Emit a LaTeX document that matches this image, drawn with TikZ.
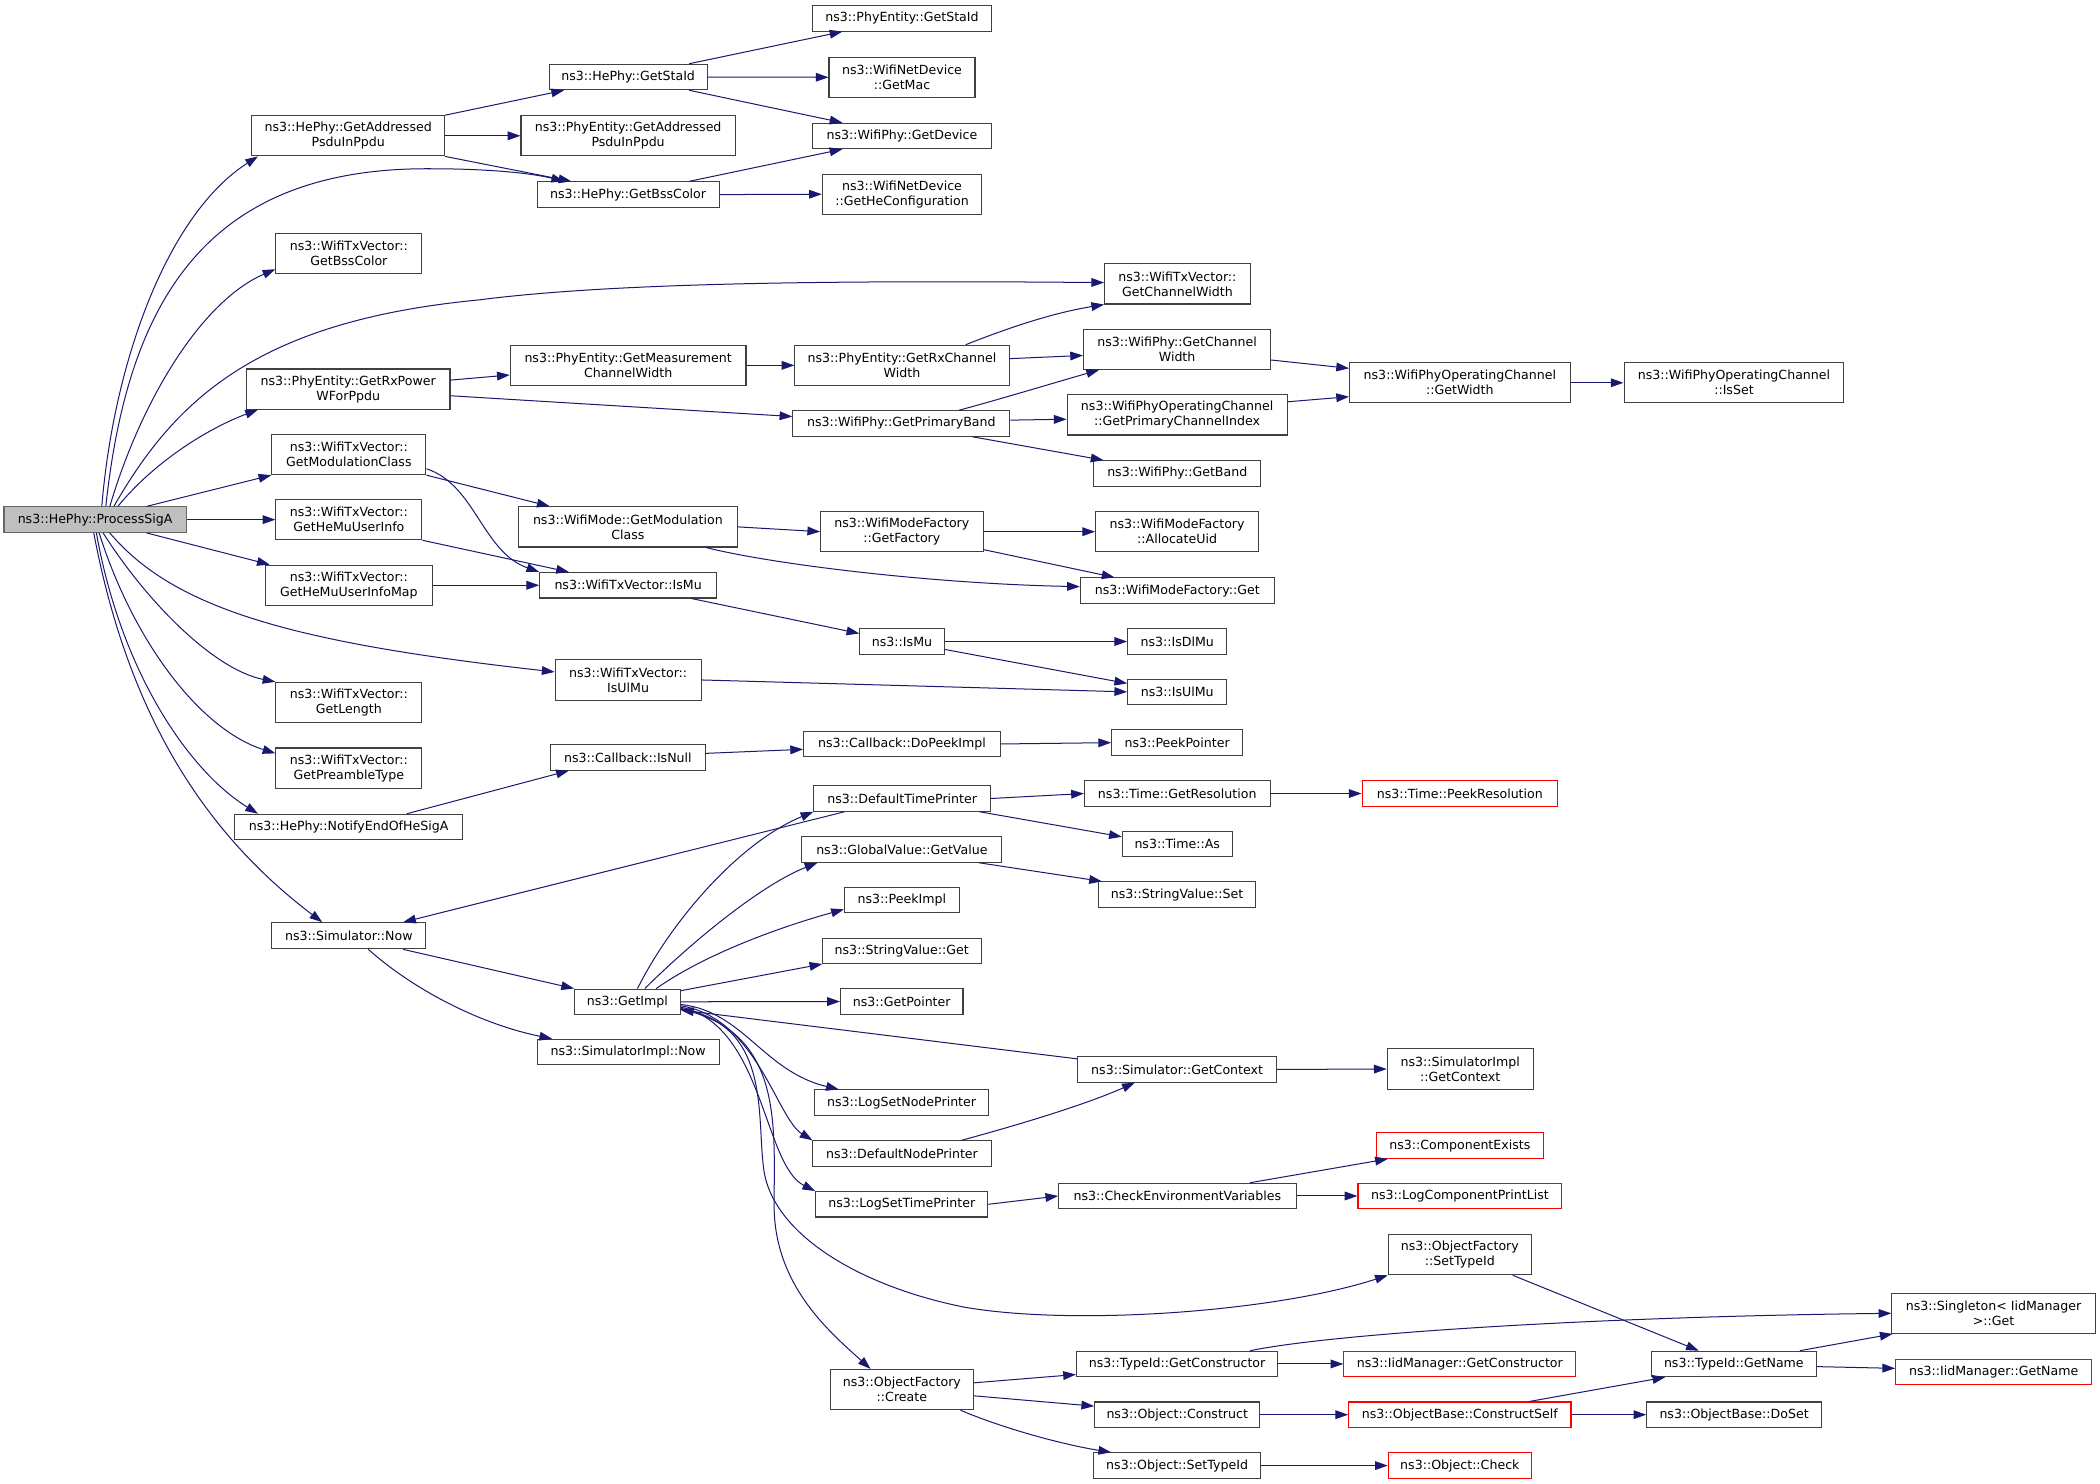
\documentclass[tikz,border=0pt]{standalone}
\usepackage{fontspec}
\setmainfont{DejaVu Sans}
\usetikzlibrary{arrows.meta,calc}
\definecolor{mblue}{HTML}{191970}
\definecolor{bordergray}{HTML}{404040}
\definecolor{rootfill}{HTML}{BFBFBF}
\definecolor{rootborder}{HTML}{666666}
\newcommand{\mkbox}[7][box]{\node[#1, minimum width=#5pt, minimum height=#6pt] (#2) at (#3,#4) {#7};}
\begin{document}
\begin{tikzpicture}[x=1pt,y=-1pt,
  box/.style={draw=bordergray, line width=0.8pt, fill=white, inner xsep=1pt, inner ysep=0pt,
    align=center, font=\fontsize{9.4}{11.2}\selectfont, text=black},
  redbox/.style={box, draw=red},
  rootbox/.style={box, fill=rootfill, draw=rootborder},
  edge/.style={draw=mblue, line width=0.75pt, -{Triangle[length=9.5pt,width=6.5pt]}}]
\useasboundingbox (0,0) rectangle (1568,1108);
\fill[white] (0,0) rectangle (1568,1108);
% column 0
\mkbox[rootbox]{psa}{71}{388}{136}{19}{ns3::HePhy::ProcessSigA}
% column 1
\mkbox{hgap}{260}{101.4}{144}{30}{ns3::HePhy::GetAddressed\\PsduInPpdu}
\mkbox{wtbss}{260.5}{189}{109}{30}{ns3::WifiTxVector::\\GetBssColor}
\mkbox{rxp}{260}{290.5}{152}{30}{ns3::PhyEntity::GetRxPower\\WForPpdu}
\mkbox{wtmod}{260.5}{339.4}{115}{30}{ns3::WifiTxVector::\\GetModulationClass}
\mkbox{wthmu}{260.5}{388}{109}{30}{ns3::WifiTxVector::\\GetHeMuUserInfo}
\mkbox{wthmum}{260.5}{437}{125}{30}{ns3::WifiTxVector::\\GetHeMuUserInfoMap}
\mkbox{wtlen}{260.5}{524.5}{109}{30}{ns3::WifiTxVector::\\GetLength}
\mkbox{wtpre}{260.5}{573.5}{109}{30}{ns3::WifiTxVector::\\GetPreambleType}
\mkbox{notify}{260.3}{617.5}{170.5}{19}{ns3::HePhy::NotifyEndOfHeSigA}
\mkbox{simnow}{260.5}{698.7}{115}{19.5}{ns3::Simulator::Now}
% column 2
\mkbox{hsta}{469}{57.5}{118}{19}{ns3::HePhy::GetStaId}
\mkbox{pegap}{469}{101.4}{160}{30}{ns3::PhyEntity::GetAddressed\\PsduInPpdu}
\mkbox{hbss}{469}{145.3}{136}{19}{ns3::HePhy::GetBssColor}
\mkbox{pemeas}{469}{272.8}{176}{30}{ns3::PhyEntity::GetMeasurement\\ChannelWidth}
\mkbox{wmmod}{468.8}{393.4}{163.6}{30}{ns3::WifiMode::GetModulation\\Class}
\mkbox{wtismu}{469}{437}{132}{19}{ns3::WifiTxVector::IsMu}
\mkbox{wtisul}{469}{507.7}{109}{30}{ns3::WifiTxVector::\\IsUlMu}
\mkbox{isnull}{468.8}{565.5}{115.7}{19}{ns3::Callback::IsNull}
\mkbox{getimpl}{468.5}{748}{79}{19}{ns3::GetImpl}
\mkbox{siminow}{469}{785.5}{136}{19}{ns3::SimulatorImpl::Now}
% column 3
\mkbox{pesta}{673.5}{13.7}{133}{19}{ns3::PhyEntity::GetStaId}
\mkbox{wndmac}{673.5}{57.7}{109}{30}{ns3::WifiNetDevice\\::GetMac}
\mkbox{wpdev}{673.5}{101.5}{133}{19}{ns3::WifiPhy::GetDevice}
\mkbox{wndhe}{673.5}{145}{119}{30}{ns3::WifiNetDevice\\::GetHeConfiguration}
\mkbox{perxcw}{673.5}{272.8}{160}{30}{ns3::PhyEntity::GetRxChannel\\Width}
\mkbox{wppb}{673}{316.2}{162}{19}{ns3::WifiPhy::GetPrimaryBand}
\mkbox{wmfgf}{673.4}{397}{121.3}{30}{ns3::WifiModeFactory\\::GetFactory}
\mkbox{ismu}{673.5}{479}{63}{19}{ns3::IsMu}
\mkbox{dopeek}{673.4}{555.5}{146.8}{19}{ns3::Callback::DoPeekImpl}
\mkbox{dtp}{673.6}{596.2}{131.8}{19}{ns3::DefaultTimePrinter}
\mkbox{gvget}{673.4}{634.3}{149.3}{19}{ns3::GlobalValue::GetValue}
\mkbox{peekimpl}{673.4}{672}{85.8}{19}{ns3::PeekImpl}
\mkbox{svget}{673.3}{709.9}{118.6}{19}{ns3::StringValue::Get}
\mkbox{getptr}{673.3}{747.8}{91.5}{19}{ns3::GetPointer}
\mkbox{lsnp}{673.2}{823.3}{130.4}{19}{ns3::LogSetNodePrinter}
\mkbox{dnp}{673.5}{861.3}{133}{19}{ns3::DefaultNodePrinter}
\mkbox{lstp}{673.3}{899.2}{128.6}{19}{ns3::LogSetTimePrinter}
\mkbox{ofcreate}{673.4}{1037.5}{106.7}{30}{ns3::ObjectFactory\\::Create}
% column 4
\mkbox{wtcw}{879.1}{212}{108.6}{30}{ns3::WifiTxVector::\\GetChannelWidth}
\mkbox{wpcw}{878.9}{260.8}{139.7}{30}{ns3::WifiPhy::GetChannel\\Width}
\mkbox{wopci}{878.9}{309.8}{164.2}{30}{ns3::WifiPhyOperatingChannel\\::GetPrimaryChannelIndex}
\mkbox{wpband}{879}{353.5}{124.7}{19}{ns3::WifiPhy::GetBand}
\mkbox{wmfau}{878.9}{397}{121.8}{30}{ns3::WifiModeFactory\\::AllocateUid}
\mkbox{wmfget}{879}{441}{144.7}{19}{ns3::WifiModeFactory::Get}
\mkbox{isdlmu}{879}{479}{74}{19}{ns3::IsDlMu}
\mkbox{isulmu}{879}{516.6}{74}{19}{ns3::IsUlMu}
\mkbox{peekptr}{878.9}{554.5}{97.7}{19}{ns3::PeekPointer}
\mkbox{tgetres}{879}{592.5}{138.6}{19}{ns3::Time::GetResolution}
\mkbox{tas}{879}{630}{82}{19}{ns3::Time::As}
\mkbox{svset}{878.9}{668}{117.4}{19}{ns3::StringValue::Set}
\mkbox{simgetctx}{878.9}{798.5}{148.6}{19}{ns3::Simulator::GetContext}
\mkbox{checkenv}{879.1}{893}{177.2}{19}{ns3::CheckEnvironmentVariables}
\mkbox{tidgetctor}{878.9}{1018.4}{150.3}{19}{ns3::TypeId::GetConstructor}
\mkbox{objconstruct}{879}{1056.3}{123.3}{19}{ns3::Object::Construct}
\mkbox{objsettid}{878.9}{1094.3}{124.3}{19}{ns3::Object::SetTypeId}
% column 5
\mkbox{wocw}{1090}{285.8}{164.7}{30}{ns3::WifiPhyOperatingChannel\\::GetWidth}
\mkbox[redbox]{tpeekres}{1090}{592.5}{146}{19}{ns3::Time::PeekResolution}
\mkbox{simigetctx}{1090.3}{798.2}{109}{30}{ns3::SimulatorImpl\\::GetContext}
\mkbox[redbox]{compexists}{1090}{855.4}{124.7}{19}{ns3::ComponentExists}
\mkbox[redbox]{logcpl}{1090.1}{893}{152.3}{19}{ns3::LogComponentPrintList}
\mkbox{ofsettid}{1090}{936.8}{106.8}{30}{ns3::ObjectFactory\\::SetTypeId}
\mkbox[redbox]{iidgetctor}{1090}{1018.4}{173.2}{19}{ns3::IidManager::GetConstructor}
\mkbox[redbox]{obconstructself}{1090}{1056.3}{166}{19}{ns3::ObjectBase::ConstructSelf}
\mkbox[redbox]{objcheck}{1090}{1094.3}{106.8}{19}{ns3::Object::Check}
% column 6
\mkbox{woisset}{1294.7}{285.8}{164.2}{30}{ns3::WifiPhyOperatingChannel\\::IsSet}
\mkbox{tidgetname}{1294.6}{1018.4}{123.6}{19}{ns3::TypeId::GetName}
\mkbox{obdoset}{1294.8}{1056.3}{130.4}{19}{ns3::ObjectBase::DoSet}
% column 7
\mkbox{singleton}{1488.5}{980.6}{151.9}{30}{ns3::Singleton< IidManager\\>::Get}
\mkbox[redbox]{iidgetname}{1488.6}{1024.4}{146.4}{19}{ns3::IidManager::GetName}

% ---- edges from ProcessSigA
\draw[edge] ($(psa.north)+(5,0)$) .. controls (85,270) and (125,160) .. ($(hgap.south west)+(5,0)$);
\draw[edge] ($(psa.north)+(8,0)$) .. controls (95,230) and (150,125) .. (321,126) .. controls (370,126) and (400,130) .. ($(hbss.north west)+(20.6,0)$);
\draw[edge] ($(psa.north)+(11,0)$) .. controls (105,300) and (150,225) .. ($(wtbss.west)+(0,12)$);
\draw[edge] ($(psa.north)+(14,0)$) .. controls (130,300) and (190,240) .. (357,224) .. controls (450,212) and (600,209) .. ($(wtcw.west)+(0,-1)$);
\draw[edge] ($(psa.north)+(17,0)$) .. controls (115,345) and (155,320) .. ($(rxp.south west)+(9,0)$);
\draw[edge] ($(psa.north east)+(-30,0)$) -- (wtmod.south west);
\draw[edge] (psa.east) -- (wthmu.west);
\draw[edge] ($(psa.south east)+(-30,0)$) -- ($(wthmum.north west)+(3.8,0)$);
\draw[edge] ($(psa.south)+(11,0)$) .. controls (130,455) and (220,480) .. ($(wtisul.west)+(0,-6)$);
\draw[edge] ($(psa.south)+(6,0)$) .. controls (110,450) and (160,500) .. (wtlen.north west);
\draw[edge] ($(psa.south)+(3,0)$) .. controls (100,480) and (150,545) .. ($(wtpre.west)+(0,-11)$);
\draw[edge] ($(psa.south)+(1,0)$) .. controls (90,500) and (140,575) .. ($(notify.north west)+(18,0)$);
\draw[edge] ($(psa.south)+(-1,0)$) .. controls (95,530) and (150,620) .. ($(simnow.north west)+(38,0)$);
% ---- upper part
\draw[edge] (hgap.north east) -- ($(hsta.south west)+(11.6,0)$);
\draw[edge] (hgap.east) -- (pegap.west);
\draw[edge] (hgap.south east) -- ($(hbss.north west)+(26,0)$);
\draw[edge] ($(hsta.north)+(45.5,0)$) -- ($(pesta.south west)+(22.4,0)$);
\draw[edge] (hsta.east) -- (wndmac.west);
\draw[edge] ($(hsta.south)+(45.5,0)$) -- ($(wpdev.north west)+(22.4,0)$);
\draw[edge] ($(hbss.north)+(45.6,0)$) -- ($(wpdev.south west)+(22.4,0)$);
\draw[edge] (hbss.east) -- (wndhe.west);
\draw[edge] ($(rxp.east)+(0,-6.7)$) -- ($(pemeas.west)+(0,7.2)$);
\draw[edge] ($(rxp.east)+(0,5)$) -- ($(wppb.west)+(0,-5.2)$);
\draw[edge] (pemeas.east) -- (perxcw.west);
\draw[edge] ($(perxcw.north)+(47.5,0)$) .. controls (760,242) and (790,233) .. (wtcw.south west);
\draw[edge] ($(perxcw.east)+(0,-5)$) -- ($(wpcw.west)+(0,4.6)$);
\draw[edge] ($(wppb.north)+(43,0)$) .. controls (740,300) and (790,285) .. ($(wpcw.south west)+(12,0)$);
\draw[edge] ($(wppb.east)+(0,-2.5)$) -- ($(wopci.west)+(0,3.2)$);
\draw[edge] ($(wppb.south)+(53,0)$) -- ($(wpband.north west)+(7.7,0)$);
\draw[edge] ($(wpcw.east)+(0,8)$) -- ($(wocw.west)+(0,-10.8)$);
\draw[edge] ($(wopci.east)+(0,-9.8)$) -- ($(wocw.west)+(0,10.4)$);
\draw[edge] (wocw.east) -- (woisset.west);
% ---- middle
\draw[edge] (wtmod.south east) -- ($(wmmod.north west)+(23.8,0)$);
\draw[edge] ($(wtmod.east)+(0,10.6)$) .. controls (355,362) and (360,412) .. (wtismu.north west);
\draw[edge] (wthmu.south east) -- ($(wtismu.north west)+(22.2,0)$);
\draw[edge] (wthmum.east) -- (wtismu.west);
\draw[edge] (wmmod.east) -- (wmfgf.west);
\draw[edge] ($(wmmod.south)+(58.2,0)$) .. controls (580,422) and (700,436) .. ($(wmfget.west)+(0,-3)$);
\draw[edge] (wmfgf.east) -- (wmfau.west);
\draw[edge] ($(wmfgf.south east)+(0,-2)$) -- ($(wmfget.north west)+(25.9,0)$);
\draw[edge] ($(wtismu.south)+(47.3,0)$) -- ($(ismu.west)+(0,-6)$);
\draw[edge] (ismu.east) -- (isdlmu.west);
\draw[edge] ($(ismu.east)+(0,5.9)$) -- ($(isulmu.west)+(0,-6.3)$);
\draw[edge] (wtisul.east) -- (isulmu.west);
\draw[edge] ($(notify.north)+(43.4,0)$) -- ($(isnull.south west)+(14.2,0)$);
\draw[edge] ($(isnull.east)+(0,-3)$) -- ($(dopeek.west)+(0,4)$);
\draw[edge] (dopeek.east) -- (peekptr.west);
\draw[edge] (dtp.east) -- (tgetres.west);
\draw[edge] ($(dtp.south east)+(-8.5,0)$) -- ($(tas.west)+(0,-5.2)$);
\draw[edge] ($(dtp.south west)+(23.3,0)$) -- ($(simnow.north)+(40.5,0)$);
\draw[edge] (tgetres.east) -- (tpeekres.west);
\draw[edge] ($(gvget.south)+(57.6,0)$) -- ($(svset.north west)+(3,0)$);
% ---- lower part
\draw[edge] ($(simnow.south)+(40.5,0)$) -- (getimpl.north west);
\draw[edge] ($(simnow.south)+(14.5,0)$) .. controls (310,740) and (360,765) .. ($(siminow.north west)+(11.7,0)$);
\draw[edge] ($(getimpl.north)+(7.5,0)$) .. controls (500,690) and (550,630) .. (dtp.south west);
\draw[edge] ($(getimpl.north)+(13,0)$) .. controls (520,700) and (570,660) .. ($(gvget.south west)+(12,0)$);
\draw[edge] ($(getimpl.north)+(21.5,0)$) .. controls (530,710) and (590,690) .. ($(peekimpl.west)+(0,7)$);
\draw[edge] ($(getimpl.north east)+(0,1.6)$) -- ($(svget.south west)+(0.4,0)$);
\draw[edge] (getimpl.east) -- (getptr.west);
\draw[edge] ($(simgetctx.north west)+(0,2)$) -- ($(getimpl.east)+(0,6.2)$);
\draw[edge] ($(getimpl.east)+(0,2)$) .. controls (555,755) and (570,800) .. ($(lsnp.north west)+(18.7,0)$);
\draw[edge] ($(getimpl.east)+(0,3)$) .. controls (565,760) and (580,835) .. (dnp.north west);
\draw[edge] ($(getimpl.east)+(0,4)$) .. controls (570,765) and (570,870) .. (lstp.north west);
\draw[edge] ($(getimpl.east)+(0,5)$) .. controls (575,765) and (565,830) .. (570,871) .. controls (575,920) and (640,960) .. (720,976) .. controls (800,990) and (950,980) .. (ofsettid.south west);
\draw[edge] ($(getimpl.east)+(0,5.5)$) .. controls (585,770) and (578,840) .. (578,900) .. controls (578,960) and (620,995) .. ($(ofcreate.north)+(-23.4,0)$);
\draw[edge] (lstp.east) -- (checkenv.west);
\draw[edge] ($(dnp.north)+(44.5,0)$) .. controls (760,840) and (810,825) .. ($(simgetctx.south west)+(43.1,0)$);
\draw[edge] (simgetctx.east) -- (simigetctx.west);
\draw[edge] ($(checkenv.north)+(54.3,0)$) -- ($(compexists.south west)+(9,0)$);
\draw[edge] (checkenv.east) -- (logcpl.west);
\draw[edge] ($(ofsettid.south)+(39.5,0)$) -- ($(tidgetname.north west)+(36,0)$);
\draw[edge] ($(ofcreate.east)+(0,-5)$) -- ($(tidgetctor.south west)+(0,-2)$);
\draw[edge] ($(ofcreate.east)+(0,4.7)$) -- ($(objconstruct.west)+(0,-6.4)$);
\draw[edge] ($(ofcreate.south east)+(-10,0)$) .. controls (745,1065) and (790,1078) .. ($(objsettid.north west)+(13.3,0)$);
\draw[edge] ($(tidgetctor.north)+(54.5,0)$) .. controls (1000,995) and (1200,983) .. (singleton.west);
\draw[edge] (tidgetctor.east) -- (iidgetctor.west);
\draw[edge] (objconstruct.east) -- (obconstructself.west);
\draw[edge] ($(obconstructself.north)+(52,0)$) -- ($(tidgetname.south west)+(11,0)$);
\draw[edge] (obconstructself.east) -- (obdoset.west);
\draw[edge] (objsettid.east) -- (objcheck.west);
\draw[edge] ($(tidgetname.north)+(49.3,0)$) -- ($(singleton.south west)+(1,0)$);
\draw[edge] ($(tidgetname.east)+(0,2)$) -- ($(iidgetname.west)+(0,-2.7)$);
\end{tikzpicture}
\end{document}
